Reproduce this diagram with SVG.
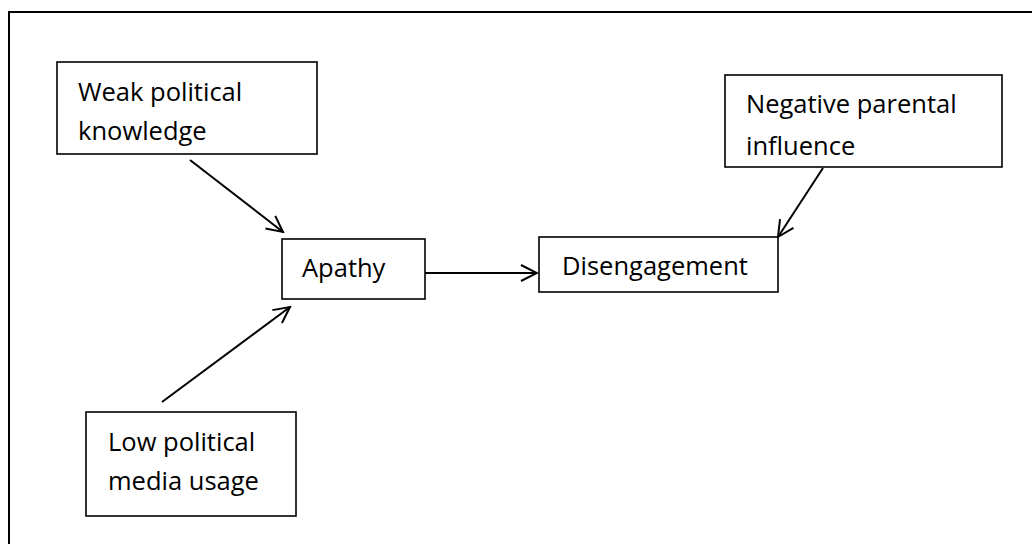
<svg xmlns="http://www.w3.org/2000/svg" width="1032" height="544" viewBox="0 0 1032 544">
<defs>
<style>
.box{fill:#fff;stroke:#000;stroke-width:1.6}
.t{font-family:"Open Sans","Liberation Sans",sans-serif;font-size:25.5px;fill:#000}
.c{stroke:#000;stroke-width:2;fill:none}
</style>
<marker id="arr" viewBox="0 0 20 20" refX="18" refY="10" markerWidth="20" markerHeight="20" markerUnits="userSpaceOnUse" orient="auto">
<path d="M2,2 L18,10 L2,18" fill="none" stroke="#000" stroke-width="2"/>
</marker>
</defs>
<rect width="1032" height="544" fill="#fff"/>
<path d="M9,544 V12 H1032" fill="none" stroke="#000" stroke-width="2"/>
<g id="connectors">
<line class="c" x1="190" y1="160" x2="283" y2="232" marker-end="url(#arr)"/>
<line class="c" x1="162" y1="402" x2="290" y2="307" marker-end="url(#arr)"/>
<line class="c" x1="425" y1="273" x2="537" y2="273" marker-end="url(#arr)"/>
<line class="c" x1="823" y1="168" x2="778" y2="237" marker-end="url(#arr)"/>
</g>
<g id="weak">
<rect class="box" x="57" y="62" width="260" height="92"/>
<text class="t" x="78" y="101">Weak political</text>
<text class="t" x="78" y="140">knowledge</text>
</g>
<g id="apathy">
<rect class="box" x="282" y="239" width="143" height="60"/>
<text class="t" x="302" y="277">Apathy</text>
</g>
<g id="disengagement">
<rect class="box" x="539" y="237" width="239" height="55"/>
<text class="t" x="562" y="275">Disengagement</text>
</g>
<g id="parental">
<rect class="box" x="725" y="75" width="277" height="92"/>
<text class="t" x="746" y="113">Negative parental</text>
<text class="t" x="746" y="155">influence</text>
</g>
<g id="media">
<rect class="box" x="86" y="412" width="210" height="104"/>
<text class="t" x="108" y="451">Low political</text>
<text class="t" x="108" y="490">media usage</text>
</g>
</svg>
